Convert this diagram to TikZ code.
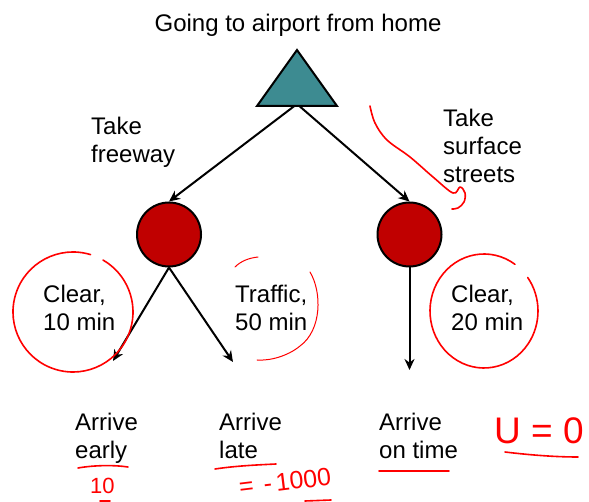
\documentclass[tikz,border=0pt]{standalone}
\usepackage{fontspec}
\setmainfont{Liberation Sans}
\usetikzlibrary{arrows.meta}
\definecolor{teal1}{RGB}{61,139,145}
\definecolor{dred}{RGB}{192,0,0}
\begin{document}
\begin{tikzpicture}[x=1pt,y=-1pt,
  lbl/.style={anchor=base west, inner sep=0, align=left, font=\fontsize{24}{28}\selectfont},
  chance/.style={circle, draw=black, line width=2pt, fill=dred, minimum size=64pt, inner sep=0},
  edge/.style={line width=2pt, -{Stealth[length=11pt,width=10pt]}},
  ink/.style={red, line width=1.6pt, line cap=round, line join=round},
  thinink/.style={red, line width=1pt, line cap=round},
  hand/.style={red, inner sep=0, anchor=base west}]
\useasboundingbox (0,0) rectangle (589,502);
% title
\node[anchor=base, inner sep=0, font=\fontsize{24}{28}\selectfont] (title) at (298,32) {Going to airport from home};
% nodes
\coordinate (root) at (297,104);
\node[chance] (c1) at (169,234.5) {};
\node[chance] (c2) at (409.5,234.5) {};
\coordinate (e1) at (113,361);
\coordinate (e2) at (233,362);
\coordinate (e3) at (409.5,370);
% edges
\draw[edge] (root) -- (c1.north);
\draw[edge] (root) -- (c2.north);
\draw[edge] (c1.south) -- (e1);
\draw[edge] (c1.south) -- (e2);
\draw[edge] (c2.south) -- (e3);
% decision triangle
\draw[fill=teal1, line width=2pt, line join=miter] (297,50) -- (337,106) -- (257,106) -- cycle;
% labels (anchor = baseline of the last line)
\node[lbl] (lfree) at (91,163) {Take\\freeway};
\node[lbl] (lsurf) at (443,183) {Take\\surface\\streets};
\node[lbl] (lclr1) at (43,331) {Clear,\\10 min};
\node[lbl] (ltraf) at (235,331) {Traffic,\\50 min};
\node[lbl] (lclr2) at (451,331) {Clear,\\20 min};
\node[lbl] (learly) at (75,458) {Arrive\\early};
\node[lbl] (llate) at (219,458) {Arrive\\late};
\node[lbl] (lontime) at (379,458) {Arrive\\on time};
% handwritten annotations
\draw[ink] (73,312) ++(-73:60) arc[start angle=-73, end angle=-420, radius=60];
\draw[ink] (484,311) ++(-55:54 and 57) arc[start angle=-55, end angle=-396, x radius=54, y radius=57];
\draw[thinink] (235,267) .. controls (241,261) and (249,258) .. (258,257);
\draw[thinink] (310,272) .. controls (322,292) and (322,330) .. (300,346) .. controls (288,356) and (270,361) .. (257,360);
\draw[ink] plot[smooth, tension=0.6] coordinates {(370,106) (375,123) (387,140) (410,157) (433,177) (453,193) (460,187) (465,193) (464,202) (458,208) (452,209)};
\draw[ink] (78,468) .. controls (95,465) and (115,465) .. (128,467);
\draw[ink] (215,469) .. controls (235,466) and (255,465) .. (276,464);
\draw[ink] (379,471) -- (449,471);
\draw[ink] (505,452) .. controls (530,455) and (555,457) .. (578,457);
\draw[ink] (100,501) -- (110,501);
\draw[ink] (305,501) -- (331,500);
\node[hand, font=\fontsize{22}{24}\selectfont] (u10) at (90,493) {10};
\node[hand, font=\fontsize{25}{28}\selectfont, rotate=7] (u1000) at (240,496) {=\hspace{10pt}-\hspace{4pt}1000};
\node[hand, font=\fontsize{37}{40}\selectfont] (u0) at (494,443) {U = 0};
\end{tikzpicture}
\end{document}
